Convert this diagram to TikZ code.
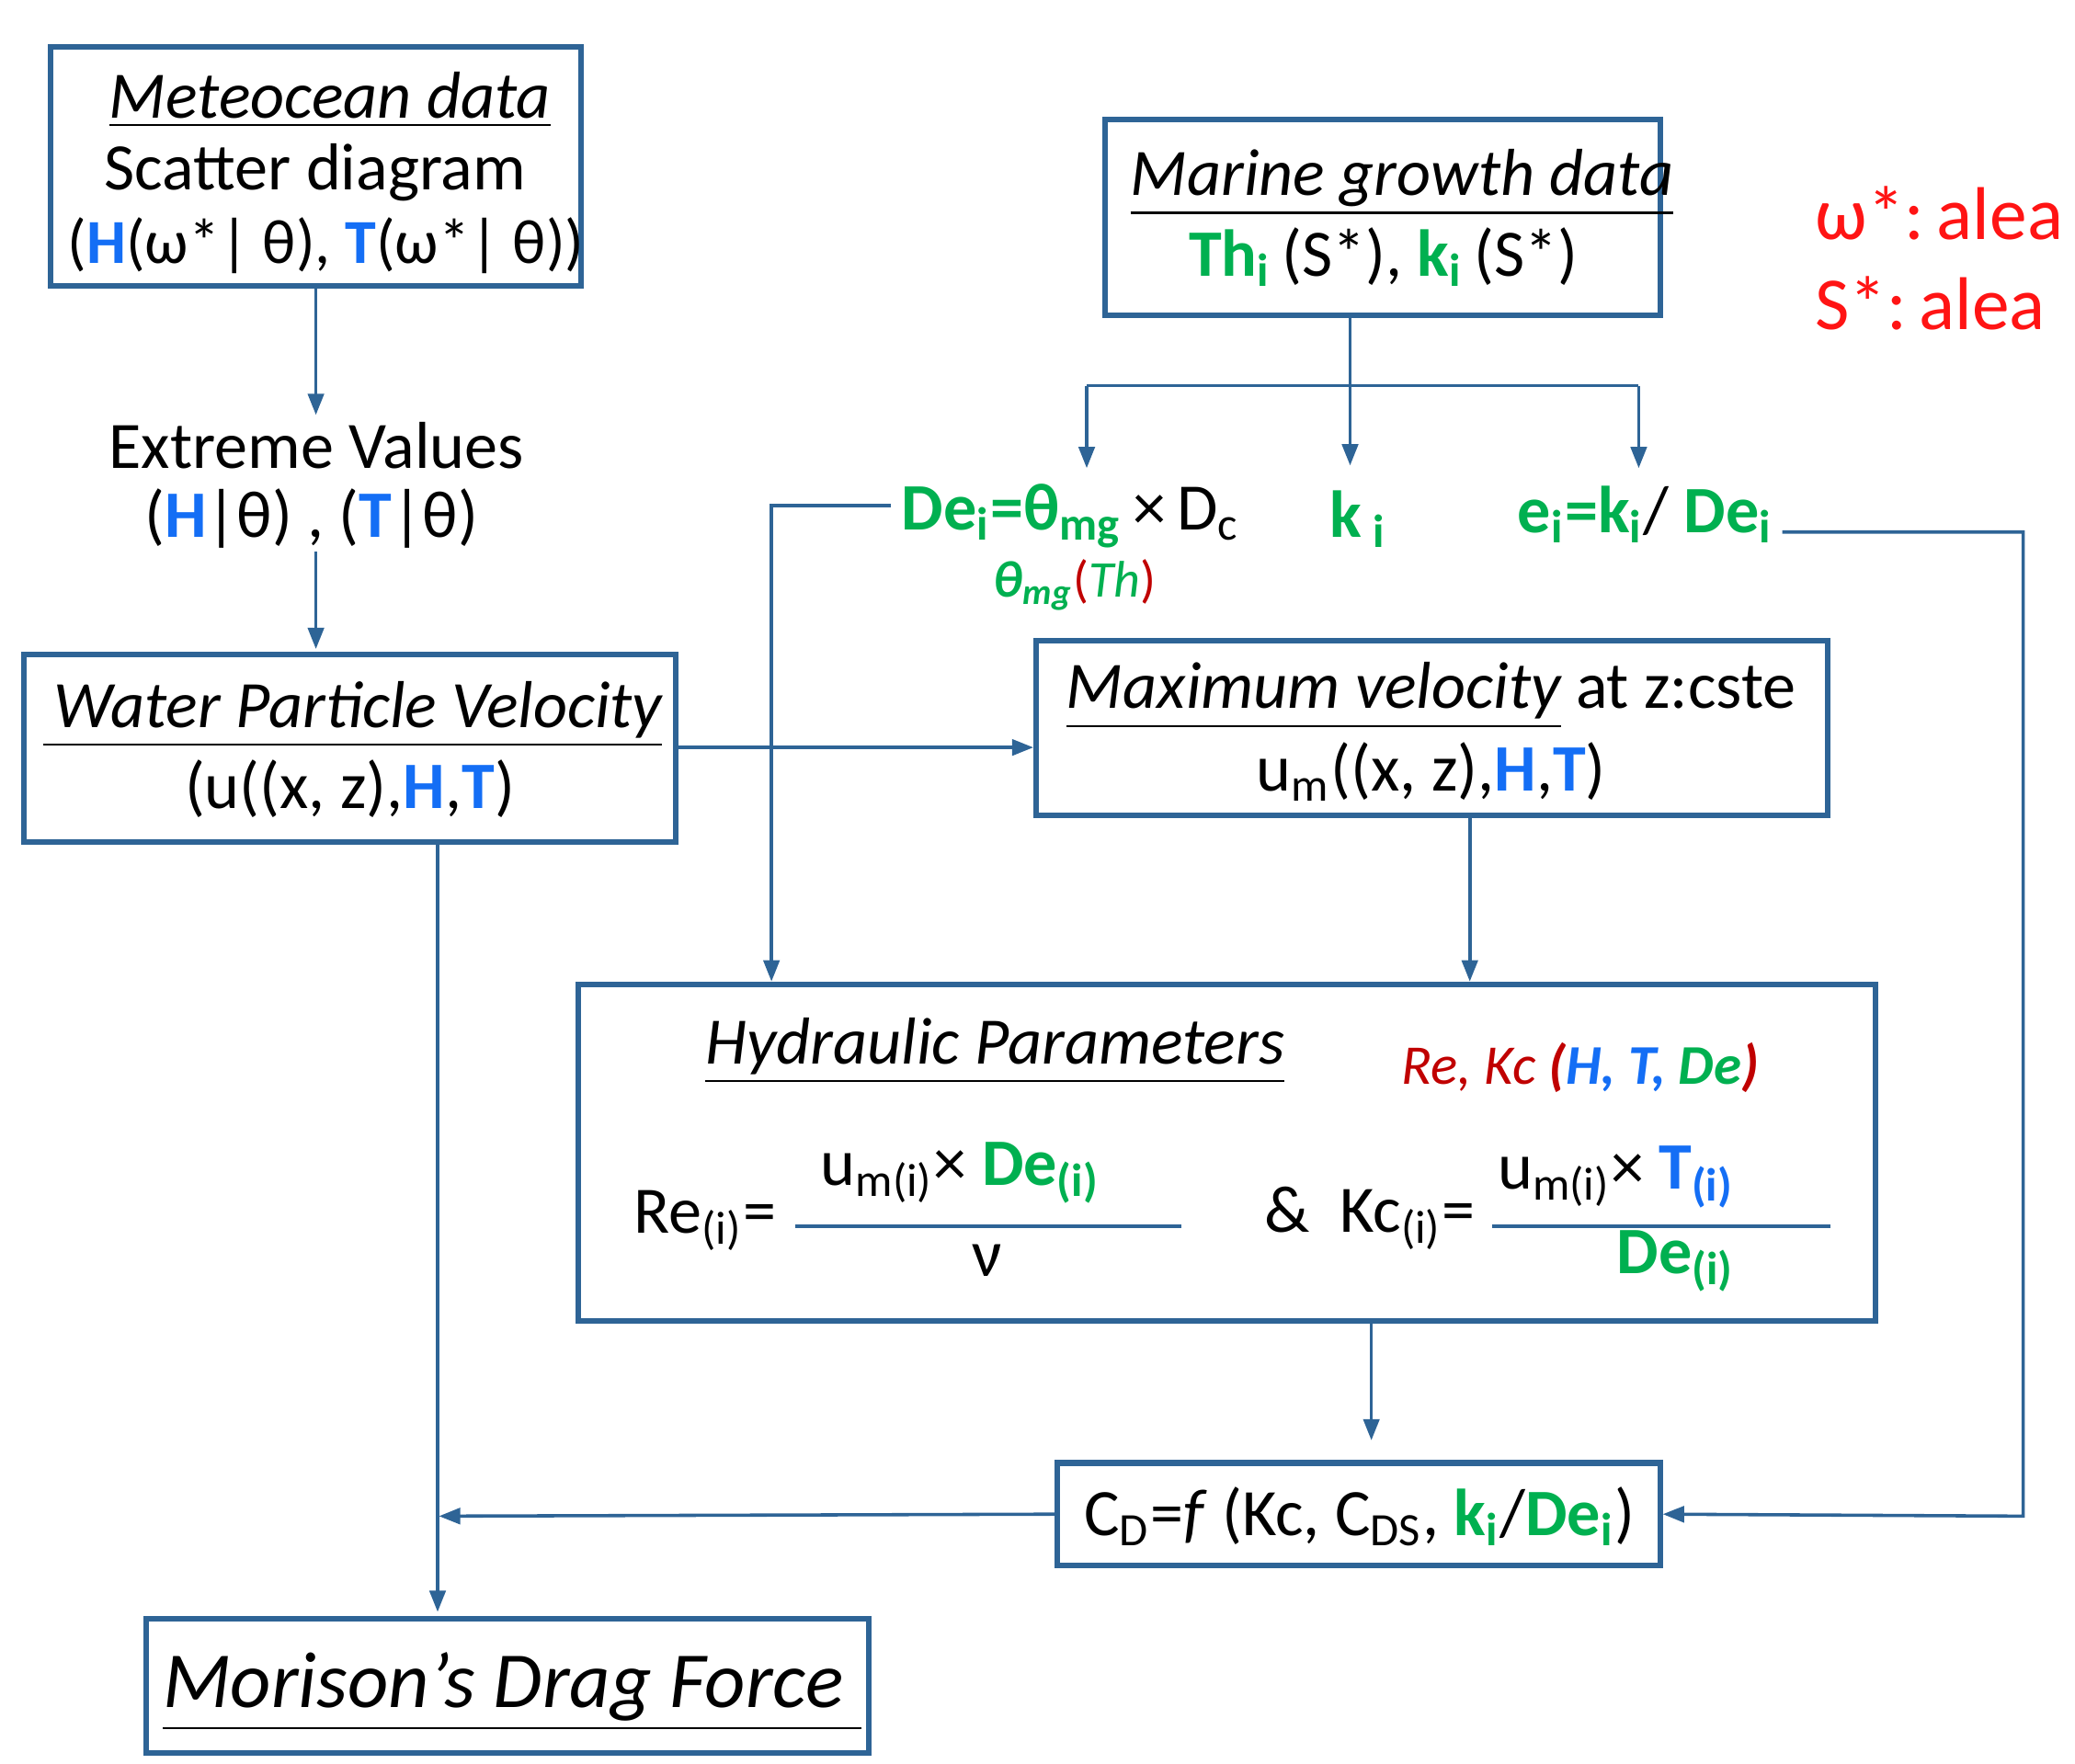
\documentclass[tikz,border=0pt]{standalone}
\usepackage{fontspec}
\setmainfont{Carlito}
\usetikzlibrary{arrows.meta}
\definecolor{bl}{RGB}{20,110,245}
\definecolor{gr}{RGB}{0,176,80}
\definecolor{ln}{RGB}{46,100,150}
\definecolor{dr}{RGB}{192,0,0}
\definecolor{rd}{RGB}{255,20,20}
\newcommand{\Bx}[1]{\textcolor{bl}{\textbf{#1}}}
\newcommand{\Gx}[1]{\textcolor{gr}{\textbf{#1}}}
\begin{document}
\begin{tikzpicture}[x=0.1mm,y=-0.1mm,
 box/.style={draw=ln,line width=1.2pt,inner sep=0,minimum width=#1},
 t/.style={font=\fontsize{14.2}{17}\selectfont,inner sep=0},
 arr/.style={draw=ln,line width=0.7pt,-{Triangle[length=1.6mm,width=1.2mm]}},
 ln/.style={draw=ln,line width=0.7pt}]
\useasboundingbox (0,0) rectangle (1560,1326);
% boxes
\node[box=39.9mm,minimum height=18mm] (met) at (237.5,125) {};
\node[box=41.7mm,minimum height=14.7mm] (mar) at (1039.5,163.5) {};
\node[box=49mm,minimum height=14.1mm] (wat) at (263,562.5) {};
\node[box=59.5mm,minimum height=13.1mm] (max) at (1076.5,547.5) {};
\node[box=97.5mm,minimum height=25.3mm] (hyd) at (922.5,866.5) {};
\node[box=45.3mm,minimum height=7.7mm] (cd) at (1021.5,1138.5) {};
\node[box=54.3mm,minimum height=10.1mm] (mor) at (381.5,1267.5) {};
% texts
\node[t] (m1) at (248,75) {\textit{\underline{Meteocean data}}};
\node[t] (m2) at (237,130) {Scatter diagram};
\node[t,font=\fontsize{13.4}{16}\selectfont] (m3) at (245,185) {(\Bx{H}(ω*| θ), \Bx{T}(ω*| θ))};
\node[t] (ev1) at (238,335) {Extreme Values};
\node[t] (ev2) at (234,390) {(\Bx{H}|θ) , (\Bx{T}|θ)};
\node[t] (w1) at (265,537) {\textit{\underline{\,Water Particle Velocity}}};
\node[t] (w2) at (263,593) {(u((x, z),\Bx{H},\Bx{T})};
\node[t] (g1) at (1054,137) {\textit{\underline{Marine growth data}}};
\node[t] (g2) at (1040,193) {\Gx{Th\textsubscript{i}}\,(S*), \Gx{k\textsubscript{i}}\,(S*)};
\node[t,text=rd,anchor=west,font=\fontsize{16}{19}\selectfont] (al1) at (1364,160) {ω*:\,alea};
\node[t,text=rd,anchor=west,font=\fontsize{16}{19}\selectfont] (al2) at (1364,228) {S*:\,alea};
\node[t] (de) at (805,388) {\Gx{De\textsubscript{i}=θ\textsubscript{mg}}\,×\,D\textsubscript{c}};
\node[t,font=\fontsize{11}{13}\selectfont] (th) at (808,440) {\textcolor{gr}{\textbf{\textit{θ\textsubscript{mg}}}}\textcolor{dr}{(}\textcolor{gr}{\textit{Th}}\textcolor{dr}{)}};
\node[t] (ki) at (1021,390) {\Gx{k\,\textsubscript{i}}};
\node[t] (ei) at (1237,387) {\Gx{e\textsubscript{i}=k\textsubscript{i}}/ \Gx{De\textsubscript{i}}};
\node[t] (x1) at (1076,523) {\textit{\underline{Maximum velocity}} at z:cste};
\node[t] (x2) at (1076,580) {u\textsubscript{m}((x, z),\Bx{H},\Bx{T})};
\node[t] (h1) at (748,790) {\textit{\underline{Hydraulic Parameters}}};
\node[t,font=\fontsize{12}{14}\selectfont] (h2) at (1188,803) {\textcolor{dr}{\textit{Re, Kc} \textbf{\textit{(}}}\textcolor{bl}{\textbf{\textit{H, T,}}} \textcolor{gr}{\textbf{\textit{De}}}\textcolor{dr}{\textbf{\textit{)}}}};
\node[t] (re) at (530,918) {Re\textsubscript{(i)}=};
\node[t] (rn) at (722,882) {u\textsubscript{m(i)}× \Gx{De\textsubscript{(i)}}};
\node[t] (rd) at (742,948) {ν};
\node[t] (kc) at (1030,916) {\&\ \ Kc\textsubscript{(i)}=};
\node[t] (kn) at (1215,885) {u\textsubscript{m(i)}× \Bx{T\textsubscript{(i)}}};
\node[t] (kd) at (1260,948) {\Gx{De\textsubscript{(i)}}};
\draw[ln] (598,922) -- (888,922);
\draw[ln] (1122,922) -- (1376,922);
\node[t] (c1) at (1022,1140) {C\textsubscript{D}=\textit{f} (Kc, C\textsubscript{DS}, \Gx{k\textsubscript{i}}/\Gx{De\textsubscript{i}})};
\node[t,font=\fontsize{17}{20}\selectfont] (mo) at (385,1272) {\textit{\underline{Morison’s Drag Force\ }}};
% coordinates
\coordinate (a1) at (237.5,312);
\coordinate (a2) at (237.5,488);
\coordinate (b0) at (1015,290);
\coordinate (bl) at (817,290);
\coordinate (br) at (1232,290);
\coordinate (bd1) at (817,352);
\coordinate (bd2) at (1015,350);
\coordinate (bd3) at (1232,352);
\coordinate (dl) at (670,380);
\coordinate (dc) at (580,380);
\coordinate (dd) at (580,738);
\coordinate (el) at (1340,400);
\coordinate (ec) at (1521,400);
\coordinate (ed) at (1521,1140);
\coordinate (hd) at (1031,1083);
\coordinate (cl) at (330,1140);
\coordinate (wd) at (329,1212);
\coordinate (a2s) at (237.5,415);
% connectors
\draw[arr] (met.south) -- (a1);
\draw[arr] (a2s) -- (a2);
\draw[arr] (mar.south -| b0) -- (bd2);
\draw[ln] (bl) -- (br);
\draw[arr] (bl) -- (bd1);
\draw[arr] (br) -- (bd3);
\draw[arr] (dl) -- (dc) -- (dd);
\draw[arr] (el) -- (ec) -- (ed) -- (cd.east);
\draw[arr] (wat.east |- 0,562) -- (max.west |- 0,562);
\draw[arr] (max.south -| 1105,0) -- (1105,738);
\draw[arr] (hyd.south -| hd) -- (hd);
\draw[arr] (cd.west) -- (cl);
\draw[arr] (wat.south -| wd) -- (wd);
\end{tikzpicture}
\end{document}
